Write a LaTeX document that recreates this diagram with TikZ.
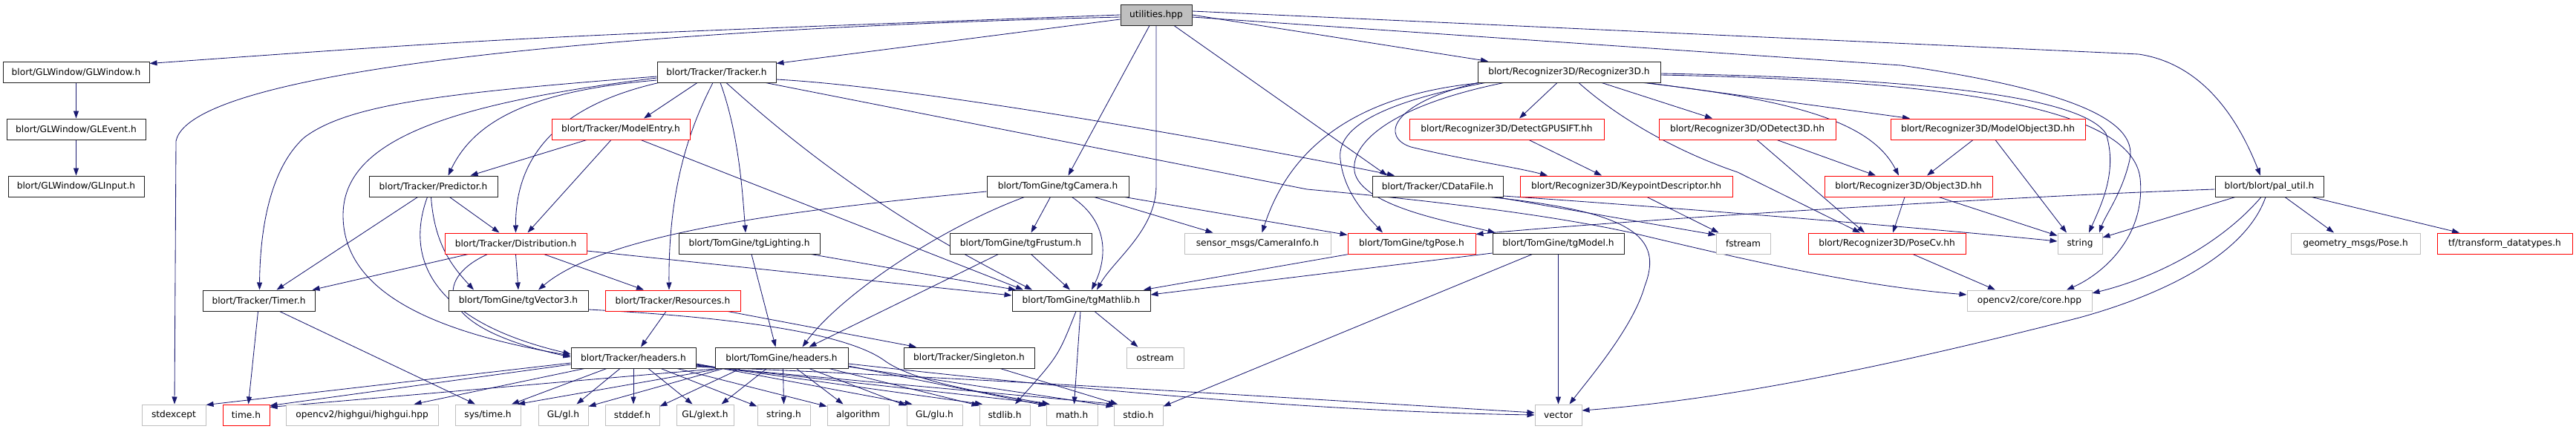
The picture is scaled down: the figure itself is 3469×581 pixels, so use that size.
\documentclass[tikz,border=0pt]{standalone}
\usepackage{fontspec}
\setmainfont{DejaVu Sans}
\usetikzlibrary{arrows.meta}
\definecolor{edgec}{HTML}{191970}
\definecolor{grayc}{HTML}{BFBFBF}
\definecolor{redc}{HTML}{FF0000}
\definecolor{blackc}{HTML}{202020}
\pgfdeclarelayer{bg}
\pgfsetlayers{bg,main}
\begin{document}
\begin{tikzpicture}[x=1pt,y=-1pt,
 fbox/.style={draw=blackc, fill=white, line width=1pt, minimum height=28pt, inner sep=0pt, text=black, font=\fontsize{12.2}{14}\selectfont},
 bk/.style={fbox},
 rd/.style={fbox, draw=redc},
 gy/.style={fbox, draw=grayc},
 rt/.style={fbox, fill=grayc},
 ed/.style={draw=edgec, line width=0.85pt, -{Triangle[length=10pt,width=7pt]}}]
\useasboundingbox (0,0) rectangle (3469,581);
% row 0
\node[rt,minimum width=96] (root) at (1557,20) {utilities.hpp};
% row 1
\node[bk,minimum width=197] (glwin) at (102.5,97) {blort/GLWindow/GLWindow.h};
\node[bk,minimum width=160] (tracker) at (965,97) {blort/Tracker/Tracker.h};
\node[bk,minimum width=246] (recog) at (2113,97) {blort/Recognizer3D/Recognizer3D.h};
% row 2
\node[bk,minimum width=187] (glevent) at (102.5,174) {blort/GLWindow/GLEvent.h};
\node[rd,minimum width=186] (modelentry) at (836,174) {blort/Tracker/ModelEntry.h};
\node[rd,minimum width=262] (detect) at (2029,174) {blort/Recognizer3D/DetectGPUSIFT.hh};
\node[rd,minimum width=238] (odetect) at (2353,174) {blort/Recognizer3D/ODetect3D.hh};
\node[rd,minimum width=262] (modelobj) at (2677,174) {blort/Recognizer3D/ModelObject3D.hh};
% row 3
\node[bk,minimum width=183] (glinput) at (102.5,251) {blort/GLWindow/GLInput.h};
\node[bk,minimum width=173] (predictor) at (583.5,251) {blort/Tracker/Predictor.h};
\node[bk,minimum width=191] (tgcamera) at (1424.5,251) {blort/TomGine/tgCamera.h};
\node[bk,minimum width=176] (cdatafile) at (1936,251) {blort/Tracker/CDataFile.h};
\node[rd,minimum width=286] (keypoint) at (2190,251) {blort/Recognizer3D/KeypointDescriptor.hh};
\node[rd,minimum width=226] (object3d) at (2570,251) {blort/Recognizer3D/Object3D.hh};
\node[bk,minimum width=146] (palutil) at (3056,251) {blort/blort/pal\_util.h};
% row 4
\node[rd,minimum width=191] (distribution) at (694.5,328) {blort/Tracker/Distribution.h};
\node[bk,minimum width=190] (tglighting) at (1009,328) {blort/TomGine/tgLighting.h};
\node[bk,minimum width=191] (tgfrustum) at (1374.5,328) {blort/TomGine/tgFrustum.h};
\node[gy,minimum width=197] (sensor) at (1693.5,328) {sensor\_msgs/CameraInfo.h};
\node[rd,minimum width=172] (tgpose) at (1901,328) {blort/TomGine/tgPose.h};
\node[bk,minimum width=177] (tgmodel) at (2098.5,328) {blort/TomGine/tgModel.h};
\node[gy,minimum width=73] (fstream) at (2347.5,328) {fstream};
\node[rd,minimum width=212] (posecv) at (2541,328) {blort/Recognizer3D/PoseCv.hh};
\node[gy,minimum width=60] (string) at (2801,328) {string};
\node[gy,minimum width=174] (geompose) at (3172,328) {geometry\_msgs/Pose.h};
\node[rd,minimum width=182] (tf) at (3373,328) {tf/transform\_datatypes.h};
% row 5
\node[bk,minimum width=151] (timer) at (348.5,405) {blort/Tracker/Timer.h};
\node[bk,minimum width=188] (tgvector3) at (698,405) {blort/TomGine/tgVector3.h};
\node[rd,minimum width=182] (resources) at (906,405) {blort/Tracker/Resources.h};
\node[bk,minimum width=186] (tgmathlib) at (1456,405) {blort/TomGine/tgMathlib.h};
\node[gy,minimum width=168] (core) at (2733,405) {opencv2/core/core.hpp};
% row 6
\node[bk,minimum width=168] (trheaders) at (853,482) {blort/Tracker/headers.h};
\node[bk,minimum width=179] (tgheaders) at (1052.5,482) {blort/TomGine/headers.h};
\node[bk,minimum width=176] (singleton) at (1305,482) {blort/Tracker/Singleton.h};
\node[gy,minimum width=77] (ostream) at (1555.5,482) {ostream};
% row 7
\node[gy,minimum width=86] (stdexcept) at (234,559) {stdexcept};
\node[rd,minimum width=63] (timeh) at (331.5,559) {time.h};
\node[gy,minimum width=205] (highgui) at (487.5,559) {opencv2/highgui/highgui.hpp};
\node[gy,minimum width=88] (systime) at (657,559) {sys/time.h};
\node[gy,minimum width=67] (glh) at (758.5,559) {GL/gl.h};
\node[gy,minimum width=73] (stddef) at (851.5,559) {stddef.h};
\node[gy,minimum width=77] (glext) at (949.5,559) {GL/glext.h};
\node[gy,minimum width=71] (stringh) at (1055.5,559) {string.h};
\node[gy,minimum width=83] (algorithm) at (1155.5,559) {algorithm};
\node[gy,minimum width=75] (glu) at (1258.5,559) {GL/glu.h};
\node[gy,minimum width=68] (stdlib) at (1353,559) {stdlib.h};
\node[gy,minimum width=69] (math) at (1443.5,559) {math.h};
\node[gy,minimum width=66] (stdio) at (1533,559) {stdio.h};
\node[gy,minimum width=63] (vector) at (2098.5,559) {vector};

\begin{pgfonlayer}{bg}
% utilities.hpp
\draw[ed] (root.west) .. controls (700,50) .. ([yshift=-3]glwin.north east);
\draw[ed] ([yshift=-3]root.west) .. controls (1000,35) and (260,80) .. (237,190) -- ([xshift=1]stdexcept.north);
\draw[ed] ([yshift=-6]root.west) -- ([yshift=-3]tracker.north east);
\draw[ed] ([xshift=-9]root.south) -- ([xshift=14]tgcamera.north);
\draw[ed] (root.south) -- (1557,250) .. controls (1557,310) and (1500,350) .. ([xshift=21]tgmathlib.north);
\draw[ed] ([xshift=24]root.south) -- ([xshift=-68]cdatafile.north);
\draw[ed] (root.east) -- ([xshift=-109]recog.north);
\draw[ed] ([yshift=-3]root.east) -- (2560,88) .. controls (2780,120) and (2880,160) .. (2868,215) .. controls (2858,260) and (2835,290) .. ([xshift=26]string.north);
\draw[ed] ([yshift=5]root.east) -- (2880,73) .. controls (2960,85) and (3010,150) .. ([xshift=-12]palutil.north);
% Tracker.h
\draw[ed] ([yshift=-6]tracker.west) .. controls (600,125) and (470,140) .. (410,185) .. controls (360,230) and (350,320) .. ([xshift=1]timer.north);
\draw[ed] ([yshift=-8]tracker.west) .. controls (600,140) and (462,190) .. (462,290) .. controls (462,400) and (600,450) .. ([yshift=3]trheaders.west);
\draw[ed] ([yshift=-11]tracker.west) .. controls (720,122) and (640,160) .. ([xshift=20]predictor.north);
\draw[ed] ([xshift=-78]tracker.south) .. controls (740,145) and (694,220) .. (distribution.north);
\draw[ed] ([xshift=-26]tracker.south) -- ([xshift=31]modelentry.north);
\draw[ed] ([xshift=-5]tracker.south) .. controls (930,170) and (900,250) .. ([xshift=-5]resources.north);
\draw[ed] ([xshift=5]tracker.south) .. controls (995,180) and (1000,260) .. ([xshift=-5]tglighting.north);
\draw[ed] ([xshift=13]tracker.south) .. controls (1120,240) and (1250,320) .. ([xshift=-66]tgmathlib.north);
\draw[ed] ([yshift=-10]tracker.east) .. controls (1250,118) and (1700,200) .. ([xshift=-58]cdatafile.north);
\draw[ed] ([xshift=66]tracker.south) -- (1760,255) .. controls (1950,272) and (2100,292) .. (2199,314) .. controls (2350,350) and (2500,385) .. ([yshift=8]core.west);
% ModelEntry.h
\draw[ed] ([xshift=-46]modelentry.south) -- ([xshift=50]predictor.north);
\draw[ed] ([xshift=-13]modelentry.south) -- ([xshift=16]distribution.north);
\draw[ed] ([xshift=27]modelentry.south) -- ([xshift=-78]tgmathlib.north);
% Predictor.h
\draw[ed] ([xshift=-21]predictor.south) -- ([xshift=24]timer.north);
\draw[ed] ([xshift=-8]predictor.south) .. controls (548,340) and (570,430) .. ([yshift=5]trheaders.west);
\draw[ed] ([xshift=-3]predictor.south) .. controls (585,330) and (610,360) .. ([xshift=-60]tgvector3.north);
\draw[ed] ([xshift=22]predictor.south) -- ([xshift=-22]distribution.north);
% Distribution.h
\draw[ed] ([xshift=-64]distribution.south) -- ([xshift=72]timer.north);
\draw[ed] ([xshift=-38]distribution.south) .. controls (585,375) and (580,440) .. ([yshift=1]trheaders.west);
\draw[ed] (distribution.south) -- (tgvector3.north);
\draw[ed] ([xshift=38]distribution.south) -- ([xshift=-39]resources.north);
\draw[ed] ([yshift=-10]distribution.east) -- ([yshift=7]tgmathlib.west);
% tgLighting.h
\draw[ed] ([xshift=3]tglighting.south) -- ([xshift=-8]tgheaders.north);
\draw[ed] ([xshift=83]tglighting.south) -- ([xshift=-88]tgmathlib.north);
% tgVector3.h
\draw[ed] ([yshift=-12]tgvector3.east) .. controls (1000,428) and (1140,450) .. (1190,485) .. controls (1230,515) and (1330,530) .. ([xshift=-30]math.north);
% Resources.h
\draw[ed] ([xshift=-9]resources.south) -- ([xshift=10]trheaders.north);
\draw[ed] ([xshift=74]resources.south) -- ([xshift=-71]singleton.north);
% tgCamera.h
\draw[ed] ([xshift=-10]tgcamera.south) -- ([xshift=14]tgfrustum.north);
\draw[ed] ([xshift=19]tgcamera.south) .. controls (1495,300) and (1490,350) .. ([xshift=14]tgmathlib.north);
\draw[ed] ([xshift=49]tgcamera.south) -- ([xshift=-60]sensor.north);
\draw[ed] ([xshift=90]tgcamera.south) -- ([yshift=-3]tgpose.north west);
\draw[ed] ([yshift=-7]tgcamera.west) .. controls (1100,280) and (820,310) .. ([xshift=27]tgvector3.north);
\draw[ed] ([xshift=-45]tgcamera.south) .. controls (1260,310) and (1130,400) .. ([xshift=28]tgheaders.north);
% tgFrustum.h
\draw[ed] ([xshift=14]tgfrustum.south) -- ([xshift=-15]tgmathlib.north);
\draw[ed] ([xshift=-30]tgfrustum.south) -- ([xshift=37]tgheaders.north);
% tgMathlib.h
\draw[ed] ([xshift=-7]tgmathlib.south) .. controls (1425,480) .. ([xshift=14]stdlib.north);
\draw[ed] ([xshift=-1]tgmathlib.south) -- ([xshift=3]math.north);
\draw[ed] ([xshift=18]tgmathlib.south) -- ([xshift=-23]ostream.north);
% Singleton, Timer, GLWindow
\draw[ed] ([xshift=42]singleton.south) -- ([xshift=-28]stdio.north);
\draw[ed] ([xshift=-1]timer.south) -- ([xshift=3]timeh.north);
\draw[ed] ([xshift=28]timer.south) -- ([xshift=-17]systime.north);
\draw[ed] (glwin) -- (glevent);
\draw[ed] (glevent) -- (glinput);
% Recognizer3D.h
\draw[ed] ([xshift=-16]recog.south) -- ([xshift=17]detect.north);
\draw[ed] ([xshift=44]recog.south) -- ([xshift=-47]odetect.north);
\draw[ed] ([xshift=105]recog.south) -- ([xshift=-105]modelobj.north);
\draw[ed] ([xshift=100]recog.south) .. controls (2420,135) and (2520,165) .. ([xshift=-13]object3d.north);
\draw[ed] ([yshift=-2]recog.east) .. controls (2550,105) and (2800,125) .. (2836,180) .. controls (2852,230) and (2830,275) .. ([xshift=12]string.north);
\draw[ed] ([yshift=-4]recog.east) .. controls (2600,108) and (2870,140) .. (2882,240) .. controls (2890,320) and (2830,370) .. ([xshift=50]core.north);
\draw[ed] ([xshift=-123]recog.south) .. controls (1870,140) and (1860,185) .. (1900,198) .. controls (1970,215) and (2040,225) .. ([xshift=-106]keypoint.north);
\draw[ed] ([xshift=13]recog.south) .. controls (2180,160) and (2260,205) .. (2340,232) -- ([xshift=-36]posecv.north);
\draw[ed] ([xshift=-118]recog.south) .. controls (1800,130) and (1730,220) .. ([xshift=6]sensor.north);
\draw[ed] ([xshift=-113]recog.south) .. controls (1850,140) and (1800,175) .. (1805,215) .. controls (1810,260) and (1840,290) .. ([xshift=-39]tgpose.north);
\draw[ed] ([xshift=-88]recog.south) .. controls (1860,145) and (1815,200) .. (1825,235) .. controls (1840,280) and (1960,300) .. ([xshift=-85]tgmodel.north);
% Recognizer3D subtree
\draw[ed] ([xshift=30]detect.south) -- ([xshift=-33]keypoint.north);
\draw[ed] ([xshift=28]keypoint.south) -- ([xshift=-33]fstream.north);
\draw[ed] ([xshift=79]cdatafile.south) -- ([yshift=-3]fstream.north west);
\draw[ed] ([yshift=-13]cdatafile.east) .. controls (2300,283) and (2600,308) .. ([yshift=3]string.west);
\draw[ed] ([xshift=70]cdatafile.south) .. controls (2200,285) and (2240,320) .. (2215,385) .. controls (2200,440) and (2140,510) .. ([xshift=15]vector.north);
\draw[ed] ([xshift=-85]tgpose.south) -- ([xshift=84]tgmathlib.north);
\draw[ed] ([yshift=-13]tgmodel.west) -- ([yshift=8]tgmathlib.east);
\draw[ed] (tgmodel.south) -- (vector.north);
\draw[ed] ([xshift=-35]tgmodel.south) -- ([yshift=-3]stdio.north east);
\draw[ed] ([xshift=13]odetect.south) -- ([xshift=-30]posecv.north);
\draw[ed] ([xshift=40]odetect.south) -- ([xshift=-44]object3d.north);
\draw[ed] ([xshift=-20]modelobj.south) -- ([xshift=25]object3d.north);
\draw[ed] ([xshift=10]modelobj.south) -- ([xshift=-18]string.north);
\draw[ed] ([xshift=-5]object3d.south) -- ([xshift=8]posecv.north);
\draw[ed] ([xshift=41]object3d.south) -- ([yshift=-4]string.north west);
\draw[ed] ([xshift=35]posecv.south) -- ([xshift=-46]core.north);
% pal_util.h
\draw[ed] ([yshift=-4]palutil.west) .. controls (2700,265) and (2200,296) .. ([yshift=-2]tgpose.north east);
\draw[ed] ([xshift=-46]palutil.south) -- ([yshift=8]string.east);
\draw[ed] ([xshift=-11]palutil.south) .. controls (2990,330) and (2900,375) .. ([yshift=10]core.east);
\draw[ed] ([xshift=-5]palutil.south) .. controls (3025,340) and (2920,395) .. (2800,428) .. controls (2500,505) and (2300,540) .. ([yshift=6]vector.east);
\draw[ed] ([xshift=21]palutil.south) -- ([xshift=-29]geompose.north);
\draw[ed] ([xshift=57]palutil.south) -- ([xshift=-61]tf.north);
% Tracker/headers.h
\draw[ed] ([yshift=-7]trheaders.west) -- ([yshift=-1]stdexcept.north east);
\draw[ed] ([yshift=-9]trheaders.west) -- ([yshift=-2]timeh.north east);
\draw[ed] ([xshift=-66]trheaders.south) -- ([xshift=70]highgui.north);
\draw[ed] ([xshift=-36]trheaders.south) -- ([xshift=32]systime.north);
\draw[ed] ([xshift=-18]trheaders.south) -- ([xshift=18]glh.north);
\draw[ed] (trheaders.south) -- ([xshift=1.5]stddef.north);
\draw[ed] ([xshift=20]trheaders.south) -- ([xshift=-17]glext.north);
\draw[ed] ([xshift=37]trheaders.south) -- ([yshift=-3]stringh.north west);
\draw[ed] ([xshift=59]trheaders.south) -- ([yshift=-3]algorithm.north west);
\draw[ed] ([yshift=-8]trheaders.east) -- ([xshift=-30]glu.north);
\draw[ed] ([yshift=-9]trheaders.east) -- ([xshift=-30]stdlib.north);
\draw[ed] ([yshift=-10]trheaders.east) -- ([xshift=-30]math.north);
\draw[ed] ([yshift=-11]trheaders.east) -- ([xshift=-30]stdio.north);
\draw[ed] ([yshift=-12]trheaders.east) .. controls (1300,508) and (1800,540) .. ([yshift=3]vector.west);
% TomGine/headers.h
\draw[ed] ([xshift=-85]tgheaders.south) -- ([yshift=-4]timeh.north east);
\draw[ed] ([xshift=-82]tgheaders.south) -- ([xshift=40]systime.north);
\draw[ed] ([xshift=-78]tgheaders.south) -- ([yshift=-3]glh.north east);
\draw[ed] ([xshift=-55]tgheaders.south) -- ([yshift=-3]stddef.north east);
\draw[ed] ([xshift=-20]tgheaders.south) -- ([xshift=22]glext.north);
\draw[ed] ([xshift=2]tgheaders.south) -- (stringh.north);
\draw[ed] ([xshift=20]tgheaders.south) -- ([xshift=-20]algorithm.north);
\draw[ed] ([xshift=37]tgheaders.south) -- ([yshift=-2]glu.north west);
\draw[ed] ([xshift=64]tgheaders.south) -- ([yshift=-2]stdlib.north west);
\draw[ed] ([yshift=-11]tgheaders.east) -- ([yshift=-2]math.north west);
\draw[ed] ([yshift=-12]tgheaders.east) -- ([yshift=-3]stdio.north west);
\draw[ed] ([yshift=-8]tgheaders.east) .. controls (1500,530) and (1800,555) .. ([yshift=0]vector.west);
\end{pgfonlayer}
\end{tikzpicture}
\end{document}
